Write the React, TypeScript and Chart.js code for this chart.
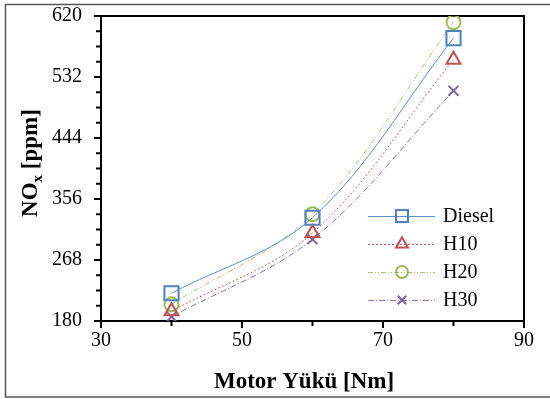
import React, { useEffect, useRef } from 'react';
import { Chart, registerables } from 'chart.js';

Chart.register(...registerables);

const loads = [40, 60, 80];
const diesel = [220, 329, 588];
const h10 = [194, 307, 557];
const h20 = [204, 334, 611];
const h30 = [186, 298, 512];
const seriesNames = ['Diesel', 'H10', 'H20', 'H30'];
const xTicks = [30, 50, 70, 90];
const xMinor = [40, 60, 80];
const yTicks = [180, 268, 356, 444, 532, 620];
const yMinor = [202, 224, 246, 290, 312, 334, 378, 400, 422, 466, 488, 510, 554, 576, 598];
const xTitle = 'Motor Yükü [Nm]';

const FONT = '"Liberation Serif", "Times New Roman", serif';

const styles = [
  { line: '#5B8FD0', mark: '#4F81BD', dash: [] as number[], point: 'rect', r: 10 },
  { line: '#D0605D', mark: '#C0504D', dash: [2, 2], point: 'triangle', r: 8 },
  { line: '#A5C46A', mark: '#9BBB59', dash: [5, 2, 1, 2, 1, 2], point: 'circle', r: 7 },
  { line: '#8C72AE', mark: '#8064A2', dash: [6, 2, 1, 2], point: 'crossRot', r: 7 },
];

function drawMarker(ctx: CanvasRenderingContext2D, style: string, x: number, y: number, r: number) {
  ctx.beginPath();
  if (style === 'rect') {
    const s = r * Math.SQRT1_2;
    ctx.rect(x - s, y - s, 2 * s, 2 * s);
  } else if (style === 'triangle') {
    ctx.moveTo(x, y - r);
    ctx.lineTo(x + r * Math.sin((2 * Math.PI) / 3), y - r * Math.cos((2 * Math.PI) / 3));
    ctx.lineTo(x + r * Math.sin((4 * Math.PI) / 3), y - r * Math.cos((4 * Math.PI) / 3));
    ctx.closePath();
  } else if (style === 'circle') {
    ctx.arc(x, y, r, 0, Math.PI * 2);
  } else {
    const o = r * Math.SQRT1_2;
    ctx.moveTo(x - o, y - o);
    ctx.lineTo(x + o, y + o);
    ctx.moveTo(x - o, y + o);
    ctx.lineTo(x + o, y - o);
  }
  ctx.stroke();
}

const framePlugin = {
  id: 'frame',
  beforeDraw(chart: any) {
    const ctx = chart.ctx as CanvasRenderingContext2D;
    ctx.save();
    ctx.fillStyle = '#fff';
    ctx.fillRect(0, 0, chart.width, chart.height);
    ctx.strokeStyle = '#555';
    ctx.lineWidth = 1.5;
    ctx.strokeRect(5.5, 4.5, 600, 392.5);
    ctx.restore();
  },
  beforeDatasetsDraw(chart: any) {
    const ctx = chart.ctx as CanvasRenderingContext2D;
    const { left, right, top, bottom } = chart.chartArea;
    const xs = chart.scales.x;
    const ys = chart.scales.y;
    ctx.save();
    ctx.strokeStyle = '#000';
    ctx.lineWidth = 2;
    ctx.strokeRect(left, top, right - left, bottom - top);
    ctx.beginPath();
    xTicks.forEach((v) => {
      const px = xs.getPixelForValue(v);
      ctx.moveTo(px, bottom);
      ctx.lineTo(px, bottom + 7);
    });
    xMinor.forEach((v) => {
      const px = xs.getPixelForValue(v);
      ctx.moveTo(px, bottom);
      ctx.lineTo(px, bottom + 5);
    });
    yTicks.forEach((v) => {
      const py = ys.getPixelForValue(v);
      ctx.moveTo(left, py);
      ctx.lineTo(left - 7, py);
    });
    yMinor.forEach((v) => {
      const py = ys.getPixelForValue(v);
      ctx.moveTo(left, py);
      ctx.lineTo(left - 5, py);
    });
    ctx.stroke();

    // axis titles
    ctx.fillStyle = '#000';
    ctx.font = `bold 23px ${FONT}`;
    ctx.textAlign = 'center';
    ctx.textBaseline = 'alphabetic';
    ctx.fillText(xTitle, 304, 388);

    ctx.translate(37, 163);
    ctx.rotate(-Math.PI / 2);
    const big = `bold 23px ${FONT}`;
    const small = `bold 15px ${FONT}`;
    ctx.font = big;
    const w1 = ctx.measureText('NO').width;
    const w3 = ctx.measureText(' [ppm]').width;
    ctx.font = small;
    const w2 = ctx.measureText('x').width;
    const total = w1 + w2 + w3;
    let cx = -total / 2;
    ctx.textAlign = 'left';
    ctx.font = big;
    ctx.fillText('NO', cx, 0);
    cx += w1;
    ctx.font = small;
    ctx.fillText('x', cx, 5);
    cx += w2;
    ctx.font = big;
    ctx.fillText(' [ppm]', cx, 0);
    ctx.restore();
  },
  afterDraw(chart: any) {
    const ctx = chart.ctx as CanvasRenderingContext2D;
    ctx.save();
    const rows = [216, 244, 272, 300];
    seriesNames.forEach((name, i) => {
      const st = styles[i];
      const y = rows[i];
      ctx.strokeStyle = st.line;
      ctx.lineWidth = 1;
      ctx.setLineDash(st.dash);
      ctx.beginPath();
      ctx.moveTo(368, y + 0.5);
      ctx.lineTo(435, y + 0.5);
      ctx.stroke();
      ctx.setLineDash([]);
      ctx.strokeStyle = st.mark;
      ctx.lineWidth = 2;
      drawMarker(ctx, st.point, 402, y, st.r * 0.85);
      ctx.fillStyle = '#000';
      ctx.font = `20px ${FONT}`;
      ctx.textAlign = 'left';
      ctx.textBaseline = 'middle';
      ctx.fillText(name, 443, y + 1);
    });
    ctx.restore();
  },
};

export default function App() {
  const ref = useRef<HTMLCanvasElement>(null);
  useEffect(() => {
    if (!ref.current) return;
    const series = [diesel, h10, h20, h30];
    const chart = new Chart(ref.current, {
      type: 'line',
      data: {
        datasets: series.map((vals, i) => ({
          label: seriesNames[i],
          data: loads.map((x, j) => ({ x, y: vals[j] })),
          borderColor: styles[i].line,
          borderWidth: 1,
          borderDash: styles[i].dash,
          tension: 0.35,
          fill: false,
          pointStyle: styles[i].point as any,
          pointRadius: styles[i].r,
          pointBorderWidth: 2,
          pointBorderColor: styles[i].mark,
          pointBackgroundColor: 'rgba(0,0,0,0)',
        })),
      },
      options: {
        responsive: false,
        animation: false,
        layout: { padding: { left: 0, top: 16, right: 26, bottom: 0 } },
        plugins: { legend: { display: false }, tooltip: { enabled: false } },
        scales: {
          x: {
            type: 'linear',
            min: 30,
            max: 90,
            afterBuildTicks: (s: any) => {
              s.ticks = xTicks.map((v) => ({ value: v }));
            },
            afterFit: (s: any) => {
              s.height = 78;
              s.paddingLeft = 0;
              s.paddingRight = 0;
            },
            ticks: { color: '#000', font: { family: FONT, size: 20 }, padding: 8, maxRotation: 0 },
            grid: { display: false, drawTicks: false },
            border: { display: false },
          },
          y: {
            type: 'linear',
            min: 180,
            max: 620,
            afterBuildTicks: (s: any) => {
              s.ticks = yTicks.map((v) => ({ value: v }));
            },
            afterFit: (s: any) => {
              s.width = 101;
              s.paddingTop = 0;
              s.paddingBottom = 0;
            },
            ticks: { color: '#000', font: { family: FONT, size: 20 }, padding: 19 },
            grid: { display: false, drawTicks: false },
            border: { display: false },
          },
        },
      },
      plugins: [framePlugin],
    });
    return () => chart.destroy();
  }, []);
  return (
    <div style={{ position: 'absolute', left: 0, top: 0, width: 550, height: 399 }}>
      <canvas ref={ref} width={550} height={399} style={{ display: 'block' }} />
    </div>
  );
}
